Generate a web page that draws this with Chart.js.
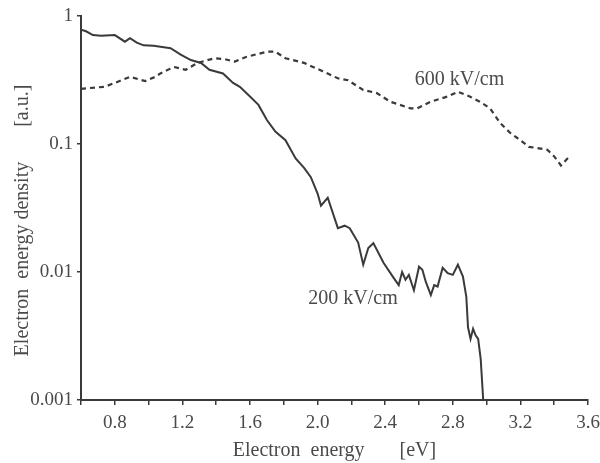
<!DOCTYPE html>
<html>
<head>
<meta charset="utf-8">
<script src="https://cdn.jsdelivr.net/npm/chart.js@4/dist/chart.umd.min.js"></script>
<style>
  html, body { margin: 0; padding: 0; background: #fff; }
  #wrap { width: 600px; height: 463px; position: relative; }
</style>
</head>
<body>
<div id="wrap"><canvas id="c" width="600" height="463"></canvas></div>
<script>
// ---- data ----
const energy200 = [0.60,0.63,0.67,0.72,0.80,0.86,0.89,0.93,0.97,1.03,1.07,1.13,1.19,1.25,1.31,1.36,1.44,1.50,1.54,1.60,1.65,1.70,1.75,1.81,1.87,1.92,1.96,2.00,2.02,2.06,2.12,2.16,2.19,2.24,2.27,2.30,2.33,2.39,2.45,2.48,2.50,2.52,2.54,2.57,2.60,2.62,2.64,2.67,2.69,2.71,2.74,2.77,2.80,2.83,2.86,2.88,2.89,2.905,2.92,2.935,2.95,2.965,2.98];
const density200 = [0.78,0.76,0.71,0.70,0.71,0.63,0.67,0.62,0.59,0.585,0.575,0.56,0.50,0.453,0.43,0.38,0.356,0.30,0.28,0.235,0.202,0.154,0.125,0.107,0.077,0.065,0.055,0.041,0.033,0.038,0.022,0.023,0.022,0.017,0.0114,0.0154,0.0168,0.0118,0.0090,0.0079,0.010,0.0087,0.0095,0.0072,0.011,0.0104,0.0084,0.0066,0.0079,0.0077,0.0108,0.0098,0.0095,0.0114,0.0092,0.0064,0.0037,0.0030,0.0036,0.0032,0.0030,0.0021,0.001];
const energy600 = [0.60,0.74,0.80,0.89,0.98,1.04,1.07,1.15,1.22,1.29,1.39,1.45,1.51,1.58,1.70,1.75,1.81,1.92,2.03,2.12,2.18,2.27,2.35,2.43,2.55,2.59,2.67,2.77,2.83,2.90,2.96,3.02,3.08,3.14,3.20,3.25,3.30,3.36,3.40,3.44,3.49];
const density600 = [0.27,0.28,0.30,0.335,0.31,0.335,0.356,0.40,0.38,0.43,0.468,0.46,0.44,0.48,0.526,0.526,0.468,0.43,0.37,0.326,0.315,0.264,0.25,0.214,0.19,0.19,0.214,0.235,0.256,0.235,0.214,0.19,0.146,0.122,0.107,0.095,0.093,0.09,0.08,0.068,0.08];
const yTickValues = [1, 0.1, 0.01, 0.001];
const yTickLabels = ['1', '0.1', '0.01', '0.001'];
const xLabelledTicks = [0.8, 1.2, 1.6, 2.0, 2.4, 2.8, 3.2, 3.6];
const seriesNames = ['200 kV/cm', '600 kV/cm'];
const seriesLabelAt = [{x: 2.21, y: 0.0062}, {x: 2.84, y: 0.316}];
const xTitle = 'Electron  energy       [eV]';
const yTitle = 'Electron  energy density       [a.u.]     ';

// ---- chart ----
const ink = '#3a3a3a';
const textInk = '#4a4a4a';
const serif = "'Liberation Serif', 'Times New Roman', serif";

const toPoints = (xs, ys) => xs.map((x, i) => ({x: x, y: ys[i]}));

const seriesLabels = {
  id: 'seriesLabels',
  afterDatasetsDraw(chart) {
    const ctx = chart.ctx;
    const xs = chart.scales.x, ys = chart.scales.y;
    ctx.save();
    ctx.font = '20px ' + serif;
    ctx.fillStyle = textInk;
    ctx.textAlign = 'center';
    ctx.textBaseline = 'middle';
    seriesNames.forEach((name, i) => {
      const p = seriesLabelAt[i];
      ctx.fillText(name, xs.getPixelForValue(p.x), ys.getPixelForValue(p.y));
    });
    ctx.restore();
  }
};

new Chart(document.getElementById('c'), {
  type: 'line',
  data: {
    datasets: [
      {
        label: seriesNames[0],
        data: toPoints(energy200, density200),
        borderColor: ink,
        borderWidth: 2,
        pointRadius: 0,
        tension: 0,
        fill: false
      },
      {
        label: seriesNames[1],
        data: toPoints(energy600, density600),
        borderColor: ink,
        borderWidth: 2.2,
        borderDash: [5, 4],
        pointRadius: 0,
        tension: 0,
        fill: false
      }
    ]
  },
  options: {
    responsive: false,
    animation: false,
    devicePixelRatio: 1,
    layout: { padding: { top: 16, right: 12, left: 0, bottom: 0 } },
    plugins: { legend: { display: false }, tooltip: { enabled: false } },
    scales: {
      x: {
        type: 'linear',
        min: 0.6,
        max: 3.6,
        border: { color: ink, width: 2 },
        grid: { drawOnChartArea: false, drawTicks: true, tickLength: 5, color: ink, lineWidth: 1.5 },
        ticks: {
          stepSize: 0.2,
          autoSkip: false,
          maxRotation: 0,
          padding: 7,
          color: textInk,
          font: { family: serif, size: 19 },
          callback: (v) => {
            const hit = xLabelledTicks.find(t => Math.abs(t - v) < 1e-6);
            return hit !== undefined ? hit.toFixed(1) : '';
          }
        },
        title: {
          display: true,
          text: xTitle,
          color: textInk,
          font: { family: serif, size: 20 },
          padding: { top: 0, bottom: 0 }
        },
        afterFit: (s) => { s.height = 63; s.paddingRight = 0; s.paddingLeft = 0; }
      },
      y: {
        type: 'logarithmic',
        min: 0.001,
        max: 1,
        border: { color: ink, width: 2 },
        grid: { drawOnChartArea: false, drawTicks: true, tickLength: 4, color: ink, lineWidth: 1.5 },
        afterBuildTicks: (s) => { s.ticks = yTickValues.map(v => ({value: v})); },
        ticks: {
          autoSkip: false,
          padding: 4,
          color: textInk,
          font: { family: serif, size: 19 },
          callback: (v) => {
            const i = yTickValues.findIndex(t => Math.abs(Math.log10(t) - Math.log10(v)) < 1e-6);
            return i >= 0 ? yTickLabels[i] : '';
          }
        },
        title: {
          display: true,
          text: yTitle,
          color: textInk,
          font: { family: serif, size: 20 },
          padding: { top: 11, bottom: 0 }
        },
        afterFit: (s) => { s.width = 81; s.paddingTop = 0; s.paddingBottom = 0; }
      }
    }
  },
  plugins: [seriesLabels]
});
</script>
</body>
</html>
